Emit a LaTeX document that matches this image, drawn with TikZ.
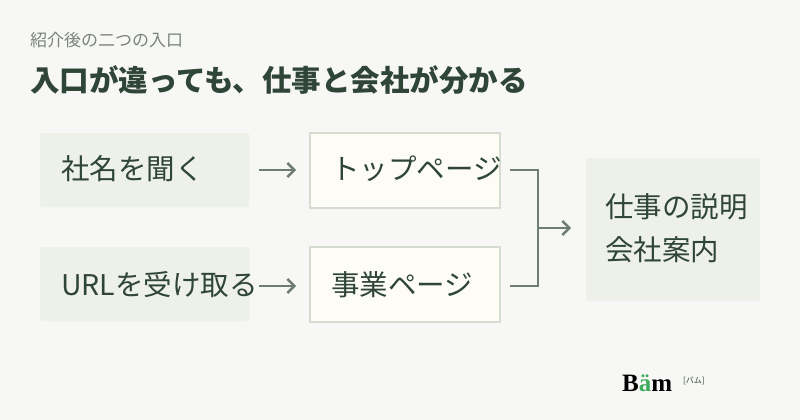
\documentclass[tikz,border=0pt]{standalone}
\usepackage{fontspec}
\setmainfont{Noto Sans CJK JP}
\newfontfamily\logofont{Liberation Serif}
\usetikzlibrary{arrows.meta}
\definecolor{bg}{HTML}{F7F7F5}
\definecolor{ink}{HTML}{2F4538}
\definecolor{sub}{HTML}{7A857A}
\definecolor{lbox}{HTML}{EEF1EA}
\definecolor{mbox}{HTML}{FDFDF6}
\definecolor{mline}{HTML}{D5DDD2}
\definecolor{arr}{HTML}{6E7D72}
\definecolor{lgreen}{HTML}{3DAA5C}
\begin{document}
\begin{tikzpicture}[x=1pt,y=-1pt,
  lb/.style={fill=lbox,rounded corners=2pt,draw=none},
  mb/.style={fill=mbox,draw=mline,line width=1.5pt},
  lab/.style={anchor=west,text=ink,font=\fontsize{28.5}{31}\selectfont,inner sep=0},
  ar/.style={draw=arr,line width=2.4pt,-{Straight Barb[length=7pt,width=14pt,line width=2.4pt]}},
  ln/.style={draw=arr,line width=2.4pt}]
\fill[bg] (0,0) rectangle (800,420);
\useasboundingbox (0,0) rectangle (800,420);
\node[anchor=west,text=sub,font=\fontsize{17}{19}\selectfont,inner sep=0] (sub) at (30,40) {紹介後の二つの入口};
\node[anchor=west,text=ink,font=\bfseries\fontsize{29.5}{32}\selectfont,inner sep=0] (title) at (30,80) {入口が違っても、仕事と会社が分かる};
\fill[lb] (40,133) rectangle (249,207);
\fill[lb] (40,247) rectangle (249,321);
\draw[mb] (310,133) rectangle (500,208);
\draw[mb] (310,247) rectangle (500,322);
\fill[lb] (586,158) rectangle (760,301);
\node[lab] (a1) at (61,169) {社名を聞く};
\node[lab] (a2) at (61,285) {URLを受け取る};
\node[lab] (b1) at (331,169) {トップページ};
\node[lab] (b2) at (331,285) {事業ページ};
\node[lab] (c1) at (605,207) {仕事の説明};
\node[lab] (c2) at (605,250) {会社案内};
\coordinate (p1) at (259,170); \coordinate (q1) at (296,170);
\coordinate (p2) at (259,286); \coordinate (q2) at (296,286);
\draw[ar] (p1) -- (q1);
\draw[ar] (p2) -- (q2);
\coordinate (t) at (510,170); \coordinate (u) at (510,286);
\coordinate (m) at (538,228); \coordinate (e) at (571,228);
\draw[ln] (t) -- (538,170) -- (538,286) -- (u);
\draw[ar] (m) -- (e);
\node[anchor=west,inner sep=0,font=\logofont\bfseries\fontsize{25}{27}\selectfont] (logo) at (622,383) {B\textcolor{lgreen}{ä}m};
\node[anchor=west,inner sep=0,font=\fontsize{8}{9}\selectfont,text=ink] (logo2) at (683,381) {[バム]};
\end{tikzpicture}
\end{document}
